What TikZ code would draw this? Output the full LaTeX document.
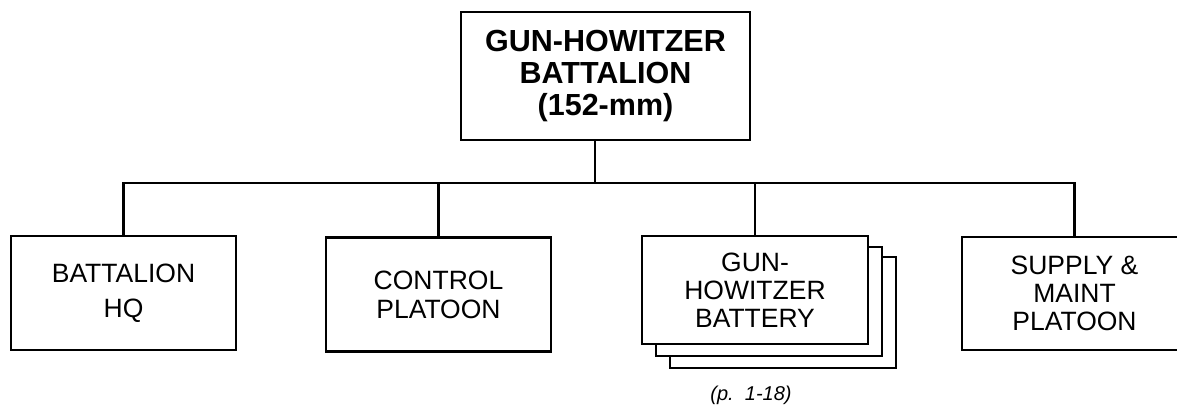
\documentclass[tikz,border=0pt]{standalone}
\usepackage{fontspec}
\setmainfont{Liberation Sans}
\begin{document}
\begin{tikzpicture}[x=1pt,y=-1pt,
  line width=2.4pt, line join=miter,
  box/.style={draw, fill=white, inner sep=0pt, align=center,
    minimum width=225pt, minimum height=114pt,
    font=\fontsize{26.5}{28}\selectfont},
  topbox/.style={draw, fill=white, inner sep=0pt, align=center,
    minimum width=289pt, minimum height=128pt,
    font=\bfseries\fontsize{30.5}{32}\selectfont},
  captext/.style={font=\itshape\fontsize{20}{22}\selectfont, inner sep=0pt}]
\useasboundingbox (0,0) rectangle (1177,404);
\clip (0,0) rectangle (1177,404);
% top
\node[topbox] (top) at (605.5,76) {GUN-HOWITZER\\BATTALION\\(152-mm)};
% bottom row
\node[box] (hq) at (123.5,293) {BATTALION\\[7pt]HQ};
\node[box] (ctl) at (438.5,294.5) {CONTROL\\[1pt]PLATOON};
% stacked battery boxes
\node[box, minimum width=226pt, minimum height=111pt] (bat3) at (783,312.5) {};
\node[box, minimum width=226pt, minimum height=109pt] (bat2) at (769,301.5) {};
\node[box, minimum width=226pt, minimum height=108pt] (bat) at (755,290) {GUN-\\HOWITZER\\BATTERY};
\node[box, minimum height=113pt] (sup) at (1074.5,293.5) {SUPPLY \&\\MAINT\\PLATOON};
% caption
\node[captext, anchor=base] (pg) at (751,400) {(p.\ \ 1-18)};
% connectors
\coordinate (j) at (595,183);
\draw (hq.north) |- (j) -| (sup.north);
\draw (top.south -| j) -- (j);
\draw (ctl.north) -- (ctl.north |- j);
\draw (bat.north) -- (bat.north |- j);
\end{tikzpicture}
\end{document}
